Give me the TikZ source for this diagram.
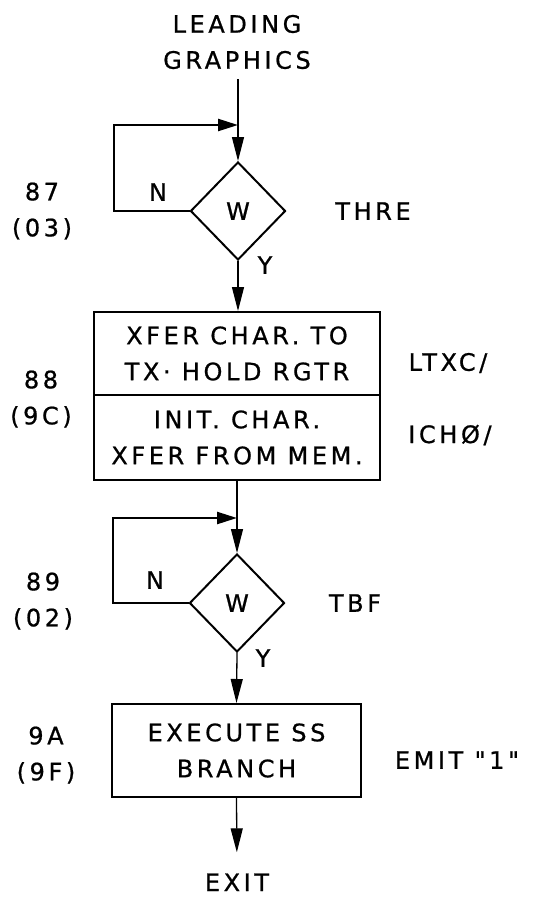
\documentclass[tikz,border=0pt]{standalone}
\usepackage{fontspec}
\newfontfamily\hand[LetterSpace=15,FakeBold=0.8]{DejaVu Sans}
\usetikzlibrary{arrows.meta,shapes.geometric}
\begin{document}
\begin{tikzpicture}[x=1pt,y=-1pt,
  hw/.style={font=\hand\fontsize{24}{36}\selectfont},
  txt/.style={hw, inner sep=0pt, align=center},
  flow/.style={line width=1.3pt, -{Triangle[length=24pt,width=12pt]}},
  loopline/.style={line width=2.4pt, -{Triangle[length=20pt,width=12pt]}},
  boxnode/.style={draw, line width=2pt, inner sep=0pt, align=center, hw},
  dec/.style={draw, diamond, line width=2pt, minimum width=95pt, minimum height=98pt, inner sep=0pt, hw}
]
\useasboundingbox (0,0) rectangle (559,897);

% entry
\node[txt] (start) at (237,42) {LEADING\\GRAPHICS};

% decision 1
\node[dec] (d1) at (238,211) {W};
\coordinate (j1) at (238,125);
\coordinate (l1) at (114,125);
\draw[flow, shorten <=10pt] (start.south -| d1.north) -- (d1.north);
\draw[loopline] (d1.west) -| (l1) -- (j1);
\node[txt] (n1) at (158,192) {N};
\node[txt] (y1) at (265,265) {Y};
\node[txt] (s1) at (42,211) {87\\(03)};
\node[txt] (r1) at (373,211) {THRE};

% process 1
\node[boxnode, minimum width=286pt, minimum height=83pt] (b1a) at (237,353.5) {XFER CHAR. TO\\TX· HOLD RGTR};
\node[boxnode, minimum width=286pt, minimum height=85pt] (b1b) at (237,437.5) {INIT. CHAR.\\XFER FROM MEM.};
\draw[flow] (d1.south) -- (b1a.north -| d1.south);
\node[txt] (s2) at (41,399) {88\\(9C)};
\node[txt] (r2a) at (448,363) {LTXC/};
\node[txt] (r2b) at (450,435) {ICHØ/};

% decision 2
\node[dec] (d2) at (237,603) {W};
\coordinate (j2) at (237,518);
\coordinate (l2) at (113,518);
\draw[flow] (b1b.south) -- (d2.north);
\draw[loopline] (d2.west) -| (l2) -- (j2);
\node[txt] (n2) at (155,580) {N};
\node[txt] (y2) at (263,658) {Y};
\node[txt] (s3) at (43,601) {89\\(02)};
\node[txt] (r3) at (355,603) {TBF};

% process 2
\node[boxnode, minimum width=249pt, minimum height=93pt] (b2) at (236.5,750.5) {EXECUTE SS\\BRANCH};
\draw[flow] (d2.south) -- (b2.north);
\node[txt] (s4) at (46,755) {9A\\(9F)};
\node[txt] (r4) at (457,760) {EMIT "1"};

% exit
\node[txt, anchor=base] (exit) at (237,891) {EXIT};
\draw[flow, shorten >=21pt] (b2.south) -- (exit.north);
\end{tikzpicture}
\end{document}
